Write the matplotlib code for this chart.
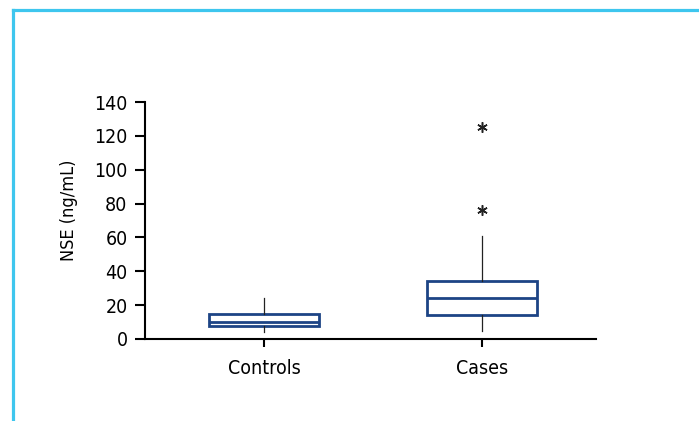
import matplotlib.pyplot as plt
from matplotlib.lines import Line2D

plt.rcParams['font.family'] = ['DejaVu Sans']
plt.rcParams['font.stretch'] = 'condensed'

# Box-plot summaries for NSE (ng/mL)
groups = ["Controls", "Cases"]
whisker_low = [4, 5]
q1 = [7.5, 14]
median = [10, 24]
q3 = [15, 34]
whisker_high = [24, 61]
outliers = [[], [125, 76]]

y_ticks = [0, 20, 40, 60, 80, 100, 120, 140]

stats = []
for i, name in enumerate(groups):
    stats.append({
        "label": name,
        "whislo": whisker_low[i],
        "q1": q1[i],
        "med": median[i],
        "q3": q3[i],
        "whishi": whisker_high[i],
        "fliers": outliers[i],
    })

fig = plt.figure(figsize=(6.99, 4.21), dpi=100)
ax = fig.add_axes([0.2074, 0.1948, 0.6452, 0.5629])

box_color = "#1d4485"
ax.bxp(stats, positions=[1, 2], widths=0.505, showcaps=False, patch_artist=True,
       boxprops=dict(facecolor="white", edgecolor=box_color, linewidth=2.0),
       medianprops=dict(color=box_color, linewidth=2.0),
       whiskerprops=dict(color="#222222", linewidth=0.9),
       flierprops=dict(marker=(6, 2, 0), markersize=7.5, markeredgewidth=1.1,
                       markeredgecolor="#222222", linestyle="none"))

ax.set_xlim(0.454, 2.523)
ax.set_ylim(0, 140)
ax.set_yticks(y_ticks)
ax.set_xticks([1, 2])
ax.set_xticklabels(groups)

for side in ["top", "right"]:
    ax.spines[side].set_visible(False)
for side in ["left", "bottom"]:
    ax.spines[side].set_linewidth(1.5)
ax.tick_params(axis="y", length=7.5, width=1.5, pad=5, labelsize=14)
ax.tick_params(axis="x", length=6, width=1.5, pad=8.5, labelsize=14)

ax.set_ylabel("NSE (ng/mL)", fontsize=13)
ax.yaxis.set_label_coords(-0.148, 0.544)

# light blue frame along the top and left
frame = "#3ec6ee"
fig.add_artist(Line2D([12.5 / 699, 1], [1 - 9.5 / 421] * 2, color=frame, lw=2.3,
                      transform=fig.transFigure))
fig.add_artist(Line2D([12.5 / 699] * 2, [0, 1 - 9.5 / 421], color=frame, lw=2.3,
                      transform=fig.transFigure))

fig.savefig("out.png", dpi=100)
